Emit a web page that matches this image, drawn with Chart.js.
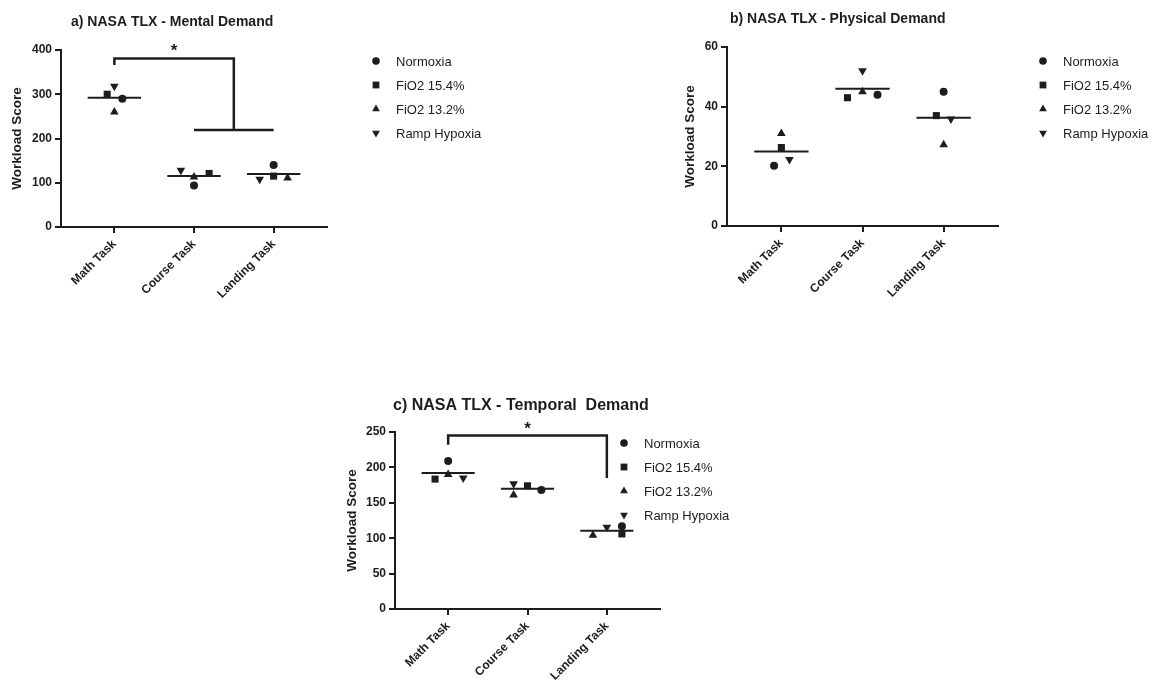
<!DOCTYPE html>
<html>
<head>
<meta charset="utf-8">
<script src="https://cdn.jsdelivr.net/npm/chart.js@4.4.1/dist/chart.umd.min.js"></script>
<style>
  body { margin: 0; background: #fff; }
  #fig { position: relative; width: 1170px; height: 688px; overflow: hidden; }
  #fig canvas { position: absolute; }
</style>
</head>
<body>
<div id="fig">
  <canvas id="mental" width="560" height="320" style="left:0;top:0"></canvas>
  <canvas id="physical" width="610" height="320" style="left:560px;top:0"></canvas>
  <canvas id="temporal" width="500" height="308" style="left:330px;top:380px"></canvas>
</div>
<script>
const ink = '#1d1d1d';
const tasks = ['Math Task', 'Course Task', 'Landing Task'];
const groups = ['Normoxia', 'FiO2 15.4%', 'FiO2 13.2%', 'Ramp Hypoxia'];

// a) mental demand
const mentalNormoxia = [290, 94, 140];
const mentalFiO2_154 = [300, 121, 115];
const mentalFiO2_132 = [260, 113, 111];
const mentalRamp = [318, 128, 108];
const mentalMean = [292, 115, 120];
const mentalTicks = [0, 100, 200, 300, 400];

// b) physical demand
const physicalNormoxia = [20.2, 44, 45];
const physicalFiO2_154 = [26.3, 43, 37];
const physicalFiO2_132 = [31, 45, 27.2];
const physicalRamp = [22.3, 52, 35.9];
const physicalMean = [25, 46, 36.3];
const physicalTicks = [0, 20, 40, 60];

// c) temporal demand
const temporalNormoxia = [209, 168, 117];
const temporalFiO2_154 = [183.5, 174, 106];
const temporalFiO2_132 = [190, 161, 104];
const temporalRamp = [185, 177, 115.6];
const temporalMean = [192, 170, 110.5];
const temporalTicks = [0, 50, 100, 150, 200, 250];

// significance brackets, [category position, score]
const mentalBracket = [[0, 366], [0, 381], [1.5, 381], [1.5, 219]];
const mentalBracketBase = [[1, 219], [2, 219]];
const temporalBracket = [[0, 232], [0, 245], [2, 245], [2, 185]];

// horizontal scatter offsets of the points (category units), per group
const mentalJitter = [[0.1, 0, 0], [-0.09, 0.19, 0], [0, 0, 0.175], [0, -0.165, -0.175]];
const physicalJitter = [[-0.09, 0.185, 0], [0, -0.185, -0.09], [0, 0, 0], [0.1, 0, 0.09]];
const temporalJitter = [[0, 0.175, 0.19], [-0.165, 0, 0.19], [0, -0.175, -0.175], [0.19, -0.175, 0]];

const markerStyle = ['circle', 'rect', 'triangle', 'triangle'];
const markerRotation = [0, 0, 0, 180];
const markerRadius = [4, 5, 5, 5];
const legendRadius = [3.8, 4.8, 4.5, 4.5];

Chart.defaults.font.family = '"Liberation Sans", Arial, sans-serif';
Chart.defaults.color = ink;

const panelText = {
  id: 'panelText',
  afterDraw(chart, args, opts) {
    const ctx = chart.ctx;
    ctx.save();
    ctx.fillStyle = ink;
    ctx.textAlign = 'left';
    ctx.textBaseline = 'alphabetic';
    ctx.font = 'bold ' + opts.titleSize + 'px "Liberation Sans", Arial, sans-serif';
    ctx.fillText(opts.title, opts.titleX, opts.titleY);

    if (opts.star) {
      const sx = chart.scales.x.getPixelForValue(opts.star[0]);
      const sy = chart.scales.y.getPixelForValue(opts.star[1]);
      ctx.font = 'bold 17px "Liberation Sans", Arial, sans-serif';
      ctx.textAlign = 'center';
      ctx.textBaseline = 'middle';
      ctx.fillText('*', sx, sy + 4);
    }

    ctx.font = '13px "Liberation Sans", Arial, sans-serif';
    ctx.textAlign = 'left';
    ctx.textBaseline = 'middle';
    groups.forEach((g, i) => {
      const y = opts.legendY + i * 24;
      ctx.fillStyle = ink;
      Chart.helpers.drawPoint(ctx, {
        pointStyle: markerStyle[i], rotation: markerRotation[i],
        radius: legendRadius[i], borderWidth: 0
      }, opts.markerX, y);
      ctx.fillStyle = ink;
      ctx.fillText(g, opts.textX, y + 1);
    });
    ctx.restore();
  }
};

function buildPanel(id, p) {
  const datasets = [];
  p.series.forEach((vals, g) => {
    datasets.push({
      label: groups[g],
      data: vals.map((v, i) => ({ x: i + p.jitter[g][i], y: v })),
      pointStyle: markerStyle[g],
      rotation: markerRotation[g],
      pointRadius: markerRadius[g],
      pointHoverRadius: markerRadius[g],
      backgroundColor: ink,
      borderColor: ink,
      borderWidth: 0,
      clip: false
    });
  });
  p.mean.forEach((m, i) => {
    datasets.push({
      data: [{ x: i - 0.335, y: m }, { x: i + 0.335, y: m }],
      showLine: true, pointRadius: 0, borderColor: ink, borderWidth: 2, clip: false
    });
  });
  p.brackets.forEach(b => {
    datasets.push({
      data: b.map(([x, y]) => ({ x, y })),
      showLine: true, pointRadius: 0, borderColor: ink, borderWidth: 2.5,
      borderJoinStyle: 'miter', clip: false
    });
  });

  const axisGrid = { drawOnChartArea: false, drawTicks: true, tickLength: 6, color: ink, lineWidth: 2 };
  const axisBorder = { display: true, color: ink, width: 2 };

  return new Chart(document.getElementById(id), {
    type: 'scatter',
    data: { datasets },
    plugins: [panelText],
    options: {
      responsive: false,
      animation: false,
      events: [],
      layout: { padding: { left: p.padLeft, top: p.padTop, right: p.padRight, bottom: 0 } },
      plugins: {
        legend: { display: false },
        tooltip: { enabled: false },
        panelText: p.text
      },
      scales: {
        x: {
          type: 'linear', min: -0.67, max: 2.67,
          afterBuildTicks: s => { s.ticks = tasks.map((t, i) => ({ value: i })); },
          afterFit: s => { s.height = p.xHeight; },
          ticks: {
            autoSkip: false, minRotation: 45, maxRotation: 45, padding: 4,
            font: { size: 12, weight: 'bold' },
            callback: v => tasks[v]
          },
          grid: axisGrid,
          border: axisBorder
        },
        y: {
          type: 'linear', min: 0, max: p.ticks[p.ticks.length - 1],
          afterBuildTicks: s => { s.ticks = p.ticks.map(v => ({ value: v })); },
          afterFit: s => { s.width = p.yWidth; },
          ticks: { padding: 3, font: { size: 12, weight: 'bold' } },
          grid: axisGrid,
          border: axisBorder,
          title: {
            display: true, text: 'Workload Score',
            font: { size: 13.5, weight: 'bold' }, padding: { top: 4, bottom: 4 }
          }
        }
      }
    }
  });
}

buildPanel('mental', {
  series: [mentalNormoxia, mentalFiO2_154, mentalFiO2_132, mentalRamp],
  mean: mentalMean, ticks: mentalTicks, jitter: mentalJitter,
  brackets: [mentalBracket, mentalBracketBase],
  padLeft: 5, yWidth: 56, padTop: 50, padRight: 233, xHeight: 93,
  text: { title: 'a) NASA TLX - Mental Demand', titleSize: 14, titleX: 71, titleY: 26,
          star: [0.75, 407], markerX: 376, textX: 396, legendY: 61 }
});

buildPanel('physical', {
  series: [physicalNormoxia, physicalFiO2_154, physicalFiO2_132, physicalRamp],
  mean: physicalMean, ticks: physicalTicks, jitter: physicalJitter,
  brackets: [],
  padLeft: 118, yWidth: 49, padTop: 47, padRight: 172, xHeight: 94,
  text: { title: 'b) NASA TLX - Physical Demand', titleSize: 14, titleX: 170, titleY: 23,
          markerX: 483, textX: 503, legendY: 61 }
});

buildPanel('temporal', {
  series: [temporalNormoxia, temporalFiO2_154, temporalFiO2_132, temporalRamp],
  mean: temporalMean, ticks: temporalTicks, jitter: temporalJitter,
  brackets: [temporalBracket],
  padLeft: 10, yWidth: 55, padTop: 52, padRight: 170, xHeight: 79,
  text: { title: 'c) NASA TLX - Temporal  Demand', titleSize: 16, titleX: 63, titleY: 30,
          star: [1, 260], markerX: 294, textX: 314, legendY: 63 }
});
</script>
</body>
</html>
